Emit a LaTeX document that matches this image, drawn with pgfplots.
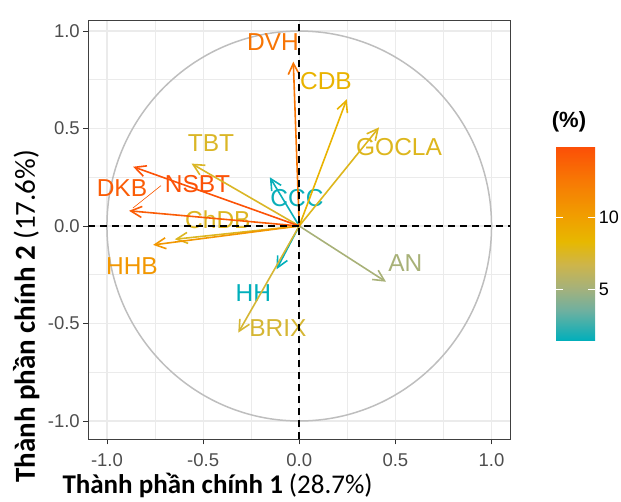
\documentclass[border=0pt]{standalone}
\usepackage{pgfplots}
\pgfplotsset{compat=1.18}
\usetikzlibrary{arrows.meta}
\usepackage{fontspec}
\setmainfont{Liberation Sans}
\newfontfamily\carlito{Carlito}

\definecolor{cNSBT}{RGB}{252,82,7}
\definecolor{cDKB}{RGB}{250,92,6}
\definecolor{cDVH}{RGB}{247,117,4}
\definecolor{cHHB}{RGB}{242,151,1}
\definecolor{cCDB}{RGB}{233,179,0}
\definecolor{cGOCLA}{RGB}{221,182,29}
\definecolor{cChDB}{RGB}{220,182,33}
\definecolor{cTBT}{RGB}{218,182,38}
\definecolor{cBRIX}{RGB}{213,182,52}
\definecolor{cAN}{RGB}{168,177,120}
\definecolor{cCCC}{RGB}{10,175,185}
\definecolor{cHH}{RGB}{0,175,187}
\definecolor{gridc}{RGB}{235,235,235}
\definecolor{axtext}{RGB}{77,77,77}
\definecolor{circc}{RGB}{190,190,190}

\pgfplotsset{
  colormap={fviz}{rgb255(141)=(0,175,187) rgb255(350)=(110,176,160) rgb255(500)=(163,177,125) rgb255(670)=(205,181,75) rgb255(833)=(231,184,0) rgb255(1000)=(240,160,0) rgb255(1250)=(247,122,4) rgb255(1500)=(252,78,7)}
}
\tikzset{arr/.style={line width=1.6pt, -{Straight Barb[length=11pt,width=11pt]}}}
\newcommand{\lblfont}{\fontsize{24.5}{26}\selectfont}

\begin{document}
\begin{tikzpicture}[x=1pt,y=1pt]
\useasboundingbox (0,0) rectangle (621,501);
\begin{axis}[
  at={(88.3pt,61.7pt)}, anchor=south west,
  scale only axis, width=421.7pt, height=418.6pt,
  xmin=-1.097, xmax=1.096, ymin=-1.094, ymax=1.053,
  xtick={-1,-0.5,0,0.5,1}, ytick={-1,-0.5,0,0.5,1},
  xticklabels={-1.0,-0.5,0.0,0.5,1.0}, yticklabels={-1.0,-0.5,0.0,0.5,1.0},
  minor xtick={-0.75,-0.25,0.25,0.75}, minor ytick={-0.75,-0.25,0.25,0.75},
  grid=both,
  major grid style={gridc, line width=1.1pt},
  minor grid style={gridc, line width=0.55pt},
  tick align=outside, xtick pos=bottom, ytick pos=left,
  major tick length=5pt, minor tick length=0pt,
  tick style={color=black!80, line width=0.9pt},
  axis line style={color=black!75, line width=0.9pt},
  ticklabel style={font=\fontsize{18.5}{20}\selectfont, text=axtext},
  xticklabel style={yshift=-6pt},
  point meta min=1.41, point meta max=15.0,
  colormap name=fviz,
  colorbar,
  colorbar/width=39pt,
  colorbar style={
    at={(parent axis.north east)}, anchor=north west,
    xshift=37.7pt, yshift=-125.3pt,
    scale only axis, width=39pt, height=194.7pt,
    axis on top,
    ytick={5,10}, yticklabels={5,10},
    ytick pos=both, yticklabel pos=right,
    tick align=inside, major tick length=7pt,
    ytick style={white, line width=1pt},
    axis line style={draw=none},
    yticklabel style={font=\fontsize{18}{20}\selectfont, text=black},
  },
]
% correlation circle
\draw[circc, line width=1.5pt] (axis cs:0,0) ellipse [x radius=1, y radius=1];

% labels
\node[text=cDVH, font=\lblfont, inner sep=0] at (axis cs:-0.137,0.941) {DVH};
\node[text=cCDB, font=\lblfont, inner sep=0] at (axis cs:0.139,0.744) {CDB};
\node[text=cGOCLA, font=\lblfont, inner sep=0] at (axis cs:0.519,0.403) {GOCLA};
\node[text=cAN, font=\lblfont, inner sep=0] at (axis cs:0.552,-0.19) {AN};
\node[text=cCCC, font=\lblfont, inner sep=0] at (axis cs:-0.012,0.144) {CCC};
\node[text=cTBT, font=\lblfont, inner sep=0] at (axis cs:-0.459,0.423) {TBT};
\node[text=cNSBT, font=\lblfont, inner sep=0] at (axis cs:-0.529,0.213) {NSBT};
\node[text=cDKB, font=\lblfont, inner sep=0] at (axis cs:-0.922,0.192) {DKB};
\node[text=cChDB, font=\lblfont, inner sep=0] at (axis cs:-0.423,0.033) {ChDB};
\node[text=cHHB, font=\lblfont, inner sep=0] at (axis cs:-0.870,-0.203) {HHB};
\node[text=cHH, font=\lblfont, inner sep=0] at (axis cs:-0.239,-0.344) {HH};
\node[text=cBRIX, font=\lblfont, inner sep=0] at (axis cs:-0.111,-0.526) {BRIX};

% repel segment for DKB
\addplot[cDKB, line width=0.6pt] coordinates {(-0.719,0.207) (-0.865,0.092)};

% arrows (variable coordinates on PC1, PC2)
\addplot[cAN, arr] coordinates {(0,0) (0.451,-0.286)};
\addplot[cHH, arr] coordinates {(0,0) (-0.118,-0.222)};
\addplot[cBRIX, arr] coordinates {(0,0) (-0.317,-0.547)};
\addplot[cCCC, arr] coordinates {(0,0) (-0.153,0.250)};
\addplot[cTBT, arr] coordinates {(0,0) (-0.560,0.320)};
\addplot[cGOCLA, arr] coordinates {(0,0) (0.415,0.506)};
\addplot[cCDB, arr] coordinates {(0,0) (0.247,0.650)};
\addplot[cChDB, arr] coordinates {(0,0) (-0.647,-0.068)};
\addplot[cHHB, arr] coordinates {(0,0) (-0.760,-0.097)};
\addplot[cDVH, arr] coordinates {(0,0) (-0.031,0.843)};
\addplot[cDKB, arr] coordinates {(0,0) (-0.885,0.078)};
\addplot[cNSBT, arr] coordinates {(0,0) (-0.864,0.304)};

% reference lines
\addplot[black, line width=1.8pt, dash pattern=on 7pt off 5pt] coordinates {(0,-1.094) (0,1.053)};
\addplot[black, line width=1.8pt, dash pattern=on 7pt off 5pt] coordinates {(-1.097,0) (1.096,0)};
\end{axis}

% colorbar title
\node[font=\bfseries\fontsize{22}{24}\selectfont] at (569,379) {(\%)};

% axis titles
\node[anchor=base, font=\carlito\fontsize{27}{30}\selectfont, inner sep=0] at (217.5,8) {\bfseries Thành phần chính 1 \mdseries(28.7\%)};
\node[rotate=90, anchor=base west, font=\carlito\fontsize{29}{32}\selectfont, inner sep=0] at (35,18) {\bfseries Thành phần chính 2 \mdseries(17.6\%)};
\end{tikzpicture}
\end{document}
